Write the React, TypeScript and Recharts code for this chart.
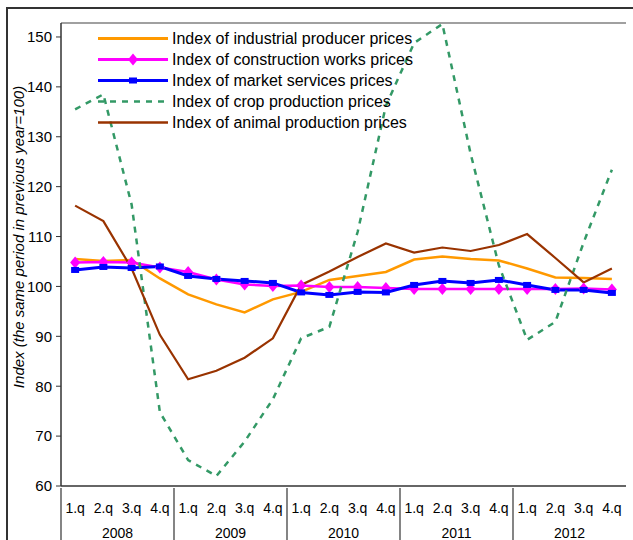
import React from "react";
import { LineChart, Line, XAxis, YAxis, Legend, ReferenceLine, Label } from "recharts";

const quarters = [
  "1.q", "2.q", "3.q", "4.q",
  "1.q", "2.q", "3.q", "4.q",
  "1.q", "2.q", "3.q", "4.q",
  "1.q", "2.q", "3.q", "4.q",
  "1.q", "2.q", "3.q", "4.q",
];
const years = ["2008", "2009", "2010", "2011", "2012"];

const industrial = [105.5, 105.1, 105.3, 101.6, 98.4, 96.4, 94.8, 97.4, 98.9, 101.3, 102.1, 102.9, 105.4, 106.0, 105.5, 105.2, 103.6, 101.8, 101.7, 101.5];
const construction = [104.8, 104.9, 104.8, 103.8, 102.9, 101.4, 100.4, 100.1, 100.2, 99.9, 99.9, 99.7, 99.5, 99.5, 99.5, 99.5, 99.5, 99.5, 99.6, 99.4];
const services = [103.3, 103.9, 103.7, 104.0, 102.1, 101.5, 101.1, 100.7, 98.8, 98.3, 98.9, 98.8, 100.3, 101.1, 100.7, 101.3, 100.3, 99.3, 99.3, 98.7];
const crop = [135.5, 138.5, 116.4, 74.8, 65.2, 62.0, 68.9, 77.4, 89.6, 91.9, 110.9, 136.2, 148.8, 152.6, 126.6, 104.2, 89.3, 92.9, 108.8, 123.4];
const animal = [116.2, 113.1, 103.6, 90.3, 81.4, 83.1, 85.7, 89.6, 100.3, 103.0, 105.9, 108.6, 106.8, 107.8, 107.1, 108.3, 110.5, 105.7, 100.8, 103.6];

const seriesNames = [
  "Index of industrial producer prices",
  "Index of construction works prices",
  "Index of market services prices",
  "Index of crop production prices",
  "Index of animal production prices",
];
const yTicks = [60, 70, 80, 90, 100, 110, 120, 130, 140, 150];

const data = quarters.map((q, i) => ({
  q,
  industrial: industrial[i],
  construction: construction[i],
  services: services[i],
  crop: crop[i],
  animal: animal[i],
}));

const FONT = "'Liberation Sans', Arial, sans-serif";
const W = 633;
const H = 540;
const YW = 61;
const RM = 7;
const HALF = (W - YW - RM) / quarters.length / 2;
const Y_MAX = 152.8;

const colors = {
  industrial: "#FF9900",
  construction: "#FF00FF",
  services: "#0000FF",
  crop: "#339966",
  animal: "#993300",
};

const diamond = (cx: number, cy: number, key?: any) => (
  <polygon
    key={key}
    points={`${cx},${cy - 6} ${cx + 5},${cy} ${cx},${cy + 6} ${cx - 5},${cy}`}
    fill={colors.construction}
  />
);
const square = (cx: number, cy: number, key?: any) => (
  <rect key={key} x={cx - 4} y={cy - 3} width={8} height={6} fill={colors.services} />
);

const QuarterTick = (props: any) => {
  const { x, y, payload, index } = props;
  return (
    <g>
      <text x={x} y={y + 25} textAnchor="middle" fontSize={14} fill="#000" fontFamily={FONT}>
        {payload.value}
      </text>
      {index % 4 === 0 && (
        <g>
          <line x1={x - HALF} x2={x - HALF} y1={y} y2={y + 60} stroke="#333" strokeWidth={1.2} />
          <text x={x + 3 * HALF} y={y + 50} textAnchor="middle" fontSize={14} fill="#000" fontFamily={FONT}>
            {years[index / 4]}
          </text>
        </g>
      )}
    </g>
  );
};

const legendRows = [
  { name: seriesNames[0], color: colors.industrial, width: 3, dash: undefined, marker: null },
  { name: seriesNames[1], color: colors.construction, width: 3, dash: undefined, marker: "diamond" },
  { name: seriesNames[2], color: colors.services, width: 3, dash: undefined, marker: "square" },
  { name: seriesNames[3], color: colors.crop, width: 2.5, dash: "6 6", marker: null },
  { name: seriesNames[4], color: colors.animal, width: 2.5, dash: undefined, marker: null },
];

const LegendBox = () => (
  <div style={{ fontFamily: FONT, fontSize: 16, color: "#000" }}>
    {legendRows.map((r) => (
      <div key={r.name} style={{ display: "flex", alignItems: "center", height: 21 }}>
        <svg width={74} height={21}>
          <line x1={0} x2={70} y1={10.5} y2={10.5} stroke={r.color} strokeWidth={r.width} strokeDasharray={r.dash} />
          {r.marker === "diamond" && diamond(35, 10.5)}
          {r.marker === "square" && square(35, 10.5)}
        </svg>
        <span style={{ whiteSpace: "nowrap", lineHeight: "21px" }}>{r.name}</span>
      </div>
    ))}
  </div>
);

export default function App() {
  return (
    <div style={{ position: "absolute", left: 0, top: 0, width: W, height: H, overflow: "hidden", background: "#fff" }}>
      <div
        style={{
          position: "absolute",
          left: 6,
          top: 7,
          width: 700,
          height: 600,
          borderTop: "2px solid #333",
          borderLeft: "2px solid #333",
        }}
      />
      <LineChart width={W} height={H} data={data} margin={{ top: 23, right: RM, left: 0, bottom: 0 }}>
        <XAxis
          dataKey="q"
          interval={0}
          tickSize={0}
          tickLine={false}
          height={54}
          padding={{ left: HALF, right: HALF }}
          axisLine={{ stroke: "#333", strokeWidth: 1.5 }}
          tick={<QuarterTick />}
        />
        <YAxis
          yAxisId="l"
          width={YW}
          domain={[60, Y_MAX]}
          ticks={yTicks}
          interval={0}
          tickSize={5}
          tickMargin={4}
          tick={{ fontSize: 15, fill: "#000", fontFamily: FONT }}
          tickLine={{ stroke: "#333" }}
          axisLine={{ stroke: "#333", strokeWidth: 1.5 }}
        >
          <Label
            content={() => (
              <text
                x={18}
                y={237}
                transform="rotate(-90 18 237)"
                textAnchor="middle"
                dominantBaseline="central"
                fontSize={15}
                fontStyle="italic"
                fontFamily={FONT}
                fill="#000"
              >
                Index (the same period in previous year=100)
              </text>
            )}
          />
        </YAxis>
        <YAxis
          yAxisId="r"
          orientation="right"
          width={0}
          domain={[60, Y_MAX]}
          tick={false}
          tickLine={false}
          axisLine={{ stroke: "#808080", strokeWidth: 1.5 }}
        />
        <ReferenceLine yAxisId="l" y={Y_MAX} stroke="#808080" strokeWidth={1.5} ifOverflow="visible" />
        <Legend
          layout="vertical"
          align="center"
          verticalAlign="middle"
          wrapperStyle={{ top: 28, left: 98 }}
          content={() => <LegendBox />}
        />
        <Line
          yAxisId="l"
          type="linear"
          dataKey="industrial"
          name={seriesNames[0]}
          stroke={colors.industrial}
          strokeWidth={2.5}
          dot={false}
          isAnimationActive={false}
        />
        <Line
          yAxisId="l"
          type="linear"
          dataKey="construction"
          name={seriesNames[1]}
          stroke={colors.construction}
          strokeWidth={2.5}
          dot={(p: any) => diamond(p.cx, p.cy, p.index)}
          isAnimationActive={false}
        />
        <Line
          yAxisId="l"
          type="linear"
          dataKey="services"
          name={seriesNames[2]}
          stroke={colors.services}
          strokeWidth={3}
          dot={(p: any) => square(p.cx, p.cy, p.index)}
          isAnimationActive={false}
        />
        <Line
          yAxisId="l"
          type="linear"
          dataKey="crop"
          name={seriesNames[3]}
          stroke={colors.crop}
          strokeWidth={2.5}
          strokeDasharray="6 6"
          dot={false}
          isAnimationActive={false}
        />
        <Line
          yAxisId="l"
          type="linear"
          dataKey="animal"
          name={seriesNames[4]}
          stroke={colors.animal}
          strokeWidth={2.2}
          dot={false}
          isAnimationActive={false}
        />
      </LineChart>
    </div>
  );
}
